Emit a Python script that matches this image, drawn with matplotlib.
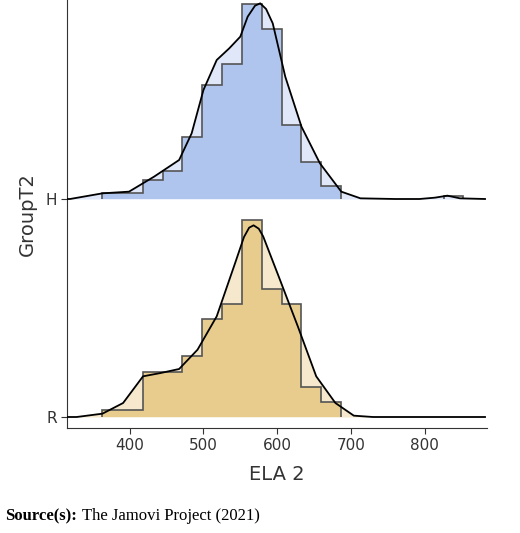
import matplotlib.pyplot as plt
import numpy as np

# histogram bin edges (ELA 2) and heights (relative, same scale for both groups)
edges = [363, 390, 418, 445, 471, 498, 525, 552, 580, 607, 633, 660, 687]
h_counts = [19, 19, 57, 85, 185, 342, 404, 585, 509, 222, 112, 39]
h_extra_edges = [826, 852]
h_extra_count = [10]
r_counts = [22, 22, 135, 135, 182, 295, 339, 590, 385, 339, 90, 45]

# density curves
h_dens_x = [315, 319, 363, 399, 433, 467, 484, 500, 518, 535, 550, 560, 570, 577, 585, 594,
            611, 633, 658, 687, 713, 760, 793, 814, 831, 848, 882]
h_dens_y = [0, 0, 17, 22, 67, 117, 197, 327, 417, 452, 487, 547, 580, 587, 570, 527,
            367, 217, 107, 22, 2, 0, 0, 4, 10, 2, 0]
r_dens_x = [315, 328, 363, 391, 418, 442, 467, 492, 518, 543, 555, 562, 568, 575, 581, 602,
            628, 653, 679, 704, 730, 882]
r_dens_y = [0, 0, 10, 42, 122, 132, 144, 202, 302, 462, 540, 568, 575, 565, 542, 422,
            272, 122, 42, 4, 0, 0]

groups = ["H", "R"]
ticks = [400, 500, 600, 700, 800]

SCALE = 1 / 3
offsets = {"H": 218, "R": 0}
colours = {"H": ("#adc4ee", "#dfe7f8"), "R": ("#e7cb8b", "#f5e8cc")}

fig = plt.figure(figsize=(5.2, 5.33), dpi=100)
ax = fig.add_axes([0.129, 0.197, 0.808, 0.803])


def ridge(name, bins, counts, dx, dy):
    base = offsets[name]
    dark, light = colours[name]
    dy = np.array(dy) * SCALE + base
    ax.fill_between(dx, base, dy, color=light, lw=0, zorder=1)
    c = np.array(counts) * SCALE + base
    ax.stairs(c, bins, baseline=base, fill=True, color=dark, alpha=0.95, lw=0, zorder=2)
    ax.stairs(c, bins, baseline=base, color="#555555", lw=1.2, zorder=3)
    ax.plot(dx, dy, color="black", lw=1.3, zorder=4, solid_joinstyle="round")


ridge("R", edges, r_counts, r_dens_x, r_dens_y)
ridge("H", edges, h_counts, h_dens_x, h_dens_y)
hb = np.array(h_extra_count) * SCALE + offsets["H"]
ax.stairs(hb, h_extra_edges, baseline=offsets["H"], color="#555555", lw=1.2, zorder=3)

ax.set_xlim(315, 885)
ax.set_ylim(-11, 417)
ax.set_xticks(ticks)
ax.set_yticks([offsets[g] for g in groups])
ax.set_yticklabels(groups)
ax.tick_params(colors="#333333", labelsize=11, length=4)
for s in ["top", "right"]:
    ax.spines[s].set_visible(False)
for s in ["left", "bottom"]:
    ax.spines[s].set_color("#333333")
ax.set_xlabel("ELA 2", fontsize=14, color="#333333", labelpad=8)
ax.set_ylabel("GroupT2", fontsize=14, color="#333333", labelpad=6)

t = fig.text(0.01, 0.024, "Source(s):", fontsize=12, family="Liberation Serif",
             fontweight="bold")
fig.text(0.158, 0.024, "The Jamovi Project (2021)", fontsize=12,
         family="Liberation Serif")

fig.savefig("out.png", dpi=100)
